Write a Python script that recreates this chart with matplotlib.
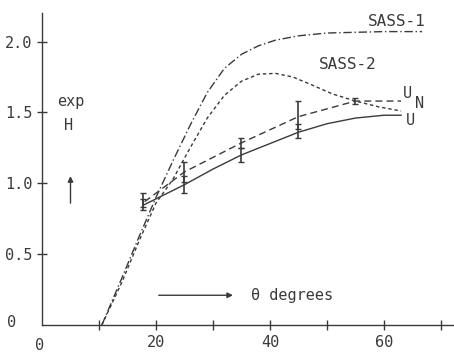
import matplotlib.pyplot as plt
import numpy as np

# curves (theta in degrees, H exp)
sass1_theta = [10.5, 14, 17, 20, 23, 26, 29, 32, 35, 38, 41, 45, 50, 55, 60, 66.7]
sass1_h = [0.0, 0.33, 0.62, 0.90, 1.16, 1.41, 1.64, 1.81, 1.91, 1.97, 2.01, 2.04, 2.06, 2.065, 2.07, 2.07]

sass2_theta = [10.5, 14, 17, 20, 23, 26, 29, 32, 35, 38, 41, 44, 47, 51, 55, 59, 63]
sass2_h = [0.0, 0.30, 0.59, 0.86, 1.03, 1.25, 1.46, 1.62, 1.72, 1.77, 1.775, 1.75, 1.70, 1.63, 1.58, 1.54, 1.51]

un_theta = [18, 25, 35, 45, 55, 59, 63]
un_h = [0.87, 1.08, 1.285, 1.47, 1.58, 1.58, 1.58]

u_theta = [18, 25, 30, 35, 40, 45, 50, 55, 60, 63]
u_h = [0.85, 0.99, 1.10, 1.20, 1.28, 1.36, 1.42, 1.46, 1.48, 1.48]

# measured points with error bars
pt_theta = [17.7, 25, 35, 45, 55]
un_pt = [0.88, 1.08, 1.285, 1.48, 1.58]
un_err = [0.05, 0.07, 0.035, 0.10, 0.02]
u_pt = [0.85, 0.99, 1.20, 1.37, 1.46]
u_err = [0.04, 0.06, 0.05, 0.05, 0.0]

INK = "#3a3a3a"
plt.rcParams["font.family"] = ["DejaVu Sans Mono"]

fig = plt.figure(figsize=(4.54, 3.56), dpi=100)
ax = fig.add_axes([0.0925, 0.087, 0.9075, 0.876])

ax.plot(sass1_theta, sass1_h, color=INK, lw=1.0, dashes=(6, 2, 1, 2))
ax.plot(sass2_theta, sass2_h, color=INK, lw=1.0, dashes=(2.5, 2))
ax.plot(un_theta, un_h, color=INK, lw=1.0, dashes=(5, 3))
ax.plot(u_theta, u_h, color=INK, lw=1.0)

ax.errorbar(pt_theta, un_pt, yerr=un_err, fmt="none", ecolor=INK, elinewidth=1.2, capsize=2)
ax.errorbar(pt_theta[:4], u_pt[:4], yerr=u_err[:4], fmt="none", ecolor=INK, elinewidth=1.2, capsize=2)

ax.set_xlim(0, 72.3)
ax.set_ylim(0, 2.2)
ax.set_xticks([10, 20, 30, 40, 50, 60, 70])
ax.set_xticklabels(["", "20", "", "40", "", "60", ""])
ax.set_yticks([0.5, 1.0, 1.5, 2.0])
ax.set_yticklabels(["0.5", "1.0", "1.5", "2.0"])
ax.tick_params(direction="inout", length=7, width=1, color=INK, labelcolor=INK, labelsize=11)
for s in ("top", "right"):
    ax.spines[s].set_visible(False)
for s in ("left", "bottom"):
    ax.spines[s].set_color(INK)
    ax.spines[s].set_linewidth(1.0)

ax.text(-0.5, -0.09, "0", ha="center", va="top", fontsize=11, color=INK)
ax.text(-4.6, 0.02, "0", ha="right", va="center", fontsize=11, color=INK)

# labels and annotation arrows
ax.text(67.4, 2.14, "SASS-1", ha="right", va="center", fontsize=11.5, color=INK)
ax.text(53.7, 1.84, "SASS-2", ha="center", va="center", fontsize=11.5, color=INK)
ax.text(63.4, 1.63, "U", ha="left", va="center", fontsize=11, color=INK)
ax.text(65.5, 1.56, "N", ha="left", va="center", fontsize=11, color=INK)
ax.text(63.8, 1.44, "U", ha="left", va="center", fontsize=11, color=INK)
ax.text(5.0, 1.58, "exp", ha="center", va="center", fontsize=11, color=INK)
ax.text(4.7, 1.41, "H", ha="center", va="center", fontsize=11, color=INK)
ax.annotate("", xy=(5.0, 1.07), xytext=(5.0, 0.84),
            arrowprops=dict(arrowstyle="-|>", color=INK, lw=1.0, mutation_scale=8))
ax.annotate("", xy=(34.0, 0.21), xytext=(20.0, 0.21),
            arrowprops=dict(arrowstyle="-|>", color=INK, lw=1.0, mutation_scale=8))
ax.text(36.6, 0.21, "θ degrees", ha="left", va="center", fontsize=11, color=INK)

fig.savefig("out.png", dpi=100)
